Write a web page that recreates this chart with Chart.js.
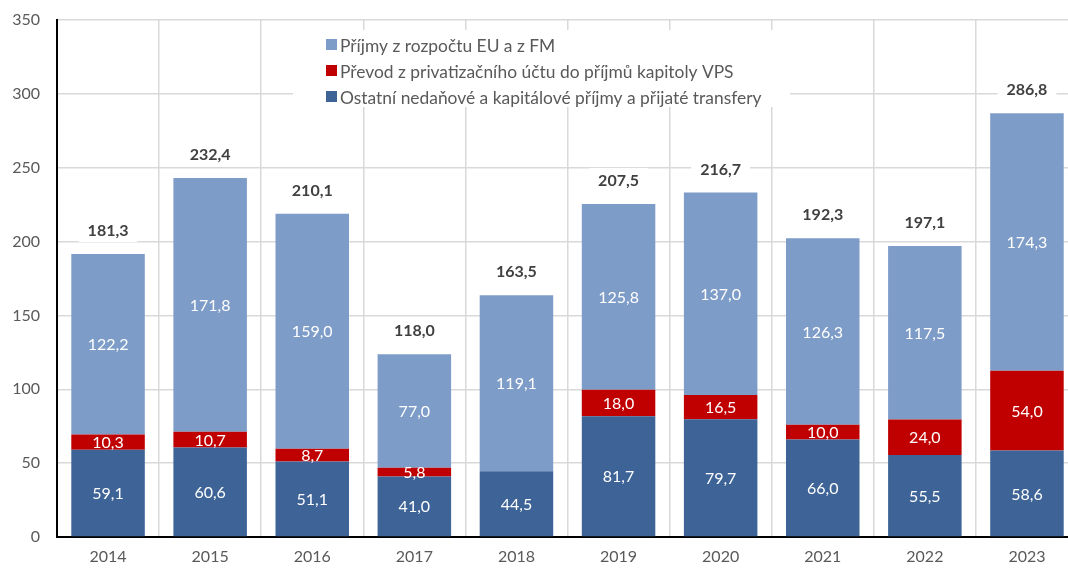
<!DOCTYPE html>
<html>
<head>
<meta charset="utf-8">
<script src="https://cdn.jsdelivr.net/npm/chart.js@4"></script>
<style>
  html, body { margin: 0; padding: 0; background: #fff; overflow: hidden; }
  #wrap { width: 1068px; height: 568px; overflow: hidden; }
</style>
</head>
<body>
<div id="wrap"><canvas id="chart" width="1080" height="568"></canvas></div>
<script>
// data
const years = ['2014', '2015', '2016', '2017', '2018', '2019', '2020', '2021', '2022', '2023'];
const ostatni = [59.1, 60.6, 51.1, 41.0, 44.5, 81.7, 79.7, 66.0, 55.5, 58.6];
const prevod = [10.3, 10.7, 8.7, 5.8, null, 18.0, 16.5, 10.0, 24.0, 54.0];
const prijmyEU = [122.2, 171.8, 159.0, 77.0, 119.1, 125.8, 137.0, 126.3, 117.5, 174.3];
const celkem = [181.3, 232.4, 210.1, 118.0, 163.5, 207.5, 216.7, 192.3, 197.1, 286.8];
const yTicks = [0, 50, 100, 150, 200, 250, 300, 350];

const FONT = 'Lato, "Open Sans", sans-serif';
const fmt = v => v.toFixed(1).replace('.', ',');

// popisky hodnot v segmentech + součty nad sloupci
const labelsPlugin = {
    id: 'labels',
    afterDatasetsDraw(chart) {
        const ctx = chart.ctx;
        ctx.save();
        ctx.textAlign = 'center';
        ctx.textBaseline = 'middle';
        ctx.font = '16px ' + FONT;
        ctx.fillStyle = '#ffffff';
        chart.data.datasets.forEach((ds, di) => {
            const meta = chart.getDatasetMeta(di);
            meta.data.forEach((bar, i) => {
                const v = ds.data[i];
                if (v == null) return;
                const yc = (bar.y + bar.base) / 2;
                ctx.fillText(fmt(v), bar.x, yc + 1);
            });
        });

        // součty
        const top = chart.getDatasetMeta(2);
        ctx.font = 'bold 16px ' + FONT;
        top.data.forEach((bar, i) => {
            const t = fmt(celkem[i]);
            const w = ctx.measureText(t).width + 18;
            const y = bar.y - 24;
            ctx.fillStyle = '#ffffff';
            ctx.fillRect(bar.x - w / 2, y - 12, w, 24);
            ctx.fillStyle = '#404040';
            ctx.fillText(t, bar.x, y + 1);
        });

        // legenda
        ctx.fillStyle = '#ffffff';
        ctx.fillRect(293, 30, 497, 77);
        ctx.font = '17.4px ' + FONT;
        ctx.textAlign = 'left';
        const order = [2, 1, 0];
        order.forEach((di, k) => {
            const ds = chart.data.datasets[di];
            const y = 45 + k * 26;
            ctx.fillStyle = ds.backgroundColor;
            ctx.fillRect(326, y - 6, 11, 11);
            ctx.fillStyle = '#595959';
            ctx.fillText(ds.label, 340, y + 1);
        });
        ctx.restore();
    }
};

new Chart(document.getElementById('chart'), {
    type: 'bar',
    data: {
        labels: years,
        datasets: [
            {
                label: 'Ostatní nedaňové a kapitálové příjmy a přijaté transfery',
                data: ostatni,
                backgroundColor: '#3E6497'
            },
            {
                label: 'Převod z privatizačního účtu do příjmů kapitoly VPS',
                data: prevod,
                backgroundColor: '#C00000'
            },
            {
                label: 'Příjmy z rozpočtu EU a z FM',
                data: prijmyEU,
                backgroundColor: '#7E9CC8'
            }
        ]
    },
    options: {
        responsive: false,
        animation: false,
        layout: { padding: { top: 20, right: 2, left: 0, bottom: 0 } },
        datasets: {
            bar: { categoryPercentage: 1, barPercentage: 0.72, borderWidth: 0 }
        },
        plugins: {
            legend: { display: false },
            tooltip: { enabled: false }
        },
        scales: {
            x: {
                stacked: true,
                grid: { color: '#D9D9D9', lineWidth: 1.5, drawTicks: false, offset: true },
                border: { color: '#000000', width: 2 },
                ticks: { color: '#595959', font: { family: FONT, size: 16 }, padding: 10 },
                afterFit(scale) {
                    scale.height = 31;
                    scale.paddingLeft = 0;
                    scale.paddingRight = 0;
                }
            },
            y: {
                stacked: true,
                min: 0,
                max: 350,
                afterBuildTicks(scale) { scale.ticks = yTicks.map(v => ({ value: v })); },
                grid: { color: '#D9D9D9', lineWidth: 1.5, drawTicks: false },
                border: { color: '#000000', width: 2 },
                ticks: { color: '#595959', font: { family: FONT, size: 16 }, padding: 17 },
                afterFit(scale) {
                    scale.width = 57;
                    scale.paddingTop = 0;
                    scale.paddingBottom = 0;
                }
            }
        }
    },
    plugins: [labelsPlugin]
});
</script>
</body>
</html>
